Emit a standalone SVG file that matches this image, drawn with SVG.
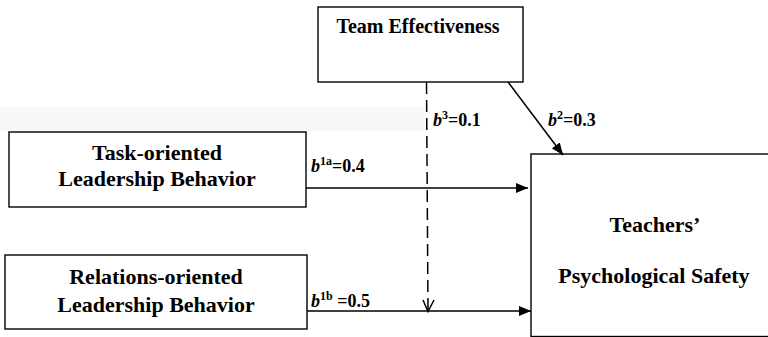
<svg xmlns="http://www.w3.org/2000/svg" width="768" height="337" viewBox="0 0 768 337">
  <style>
    .box { fill: #ffffff; stroke: #000000; stroke-width: 1.4; }
    .lbl { font-family: "Liberation Serif", "Times New Roman", serif; font-weight: bold; font-size: 22px; fill: #000; text-anchor: middle; }
    .lblS { font-family: "Liberation Serif", "Times New Roman", serif; font-weight: bold; font-size: 20px; fill: #000; text-anchor: middle; }
    .coef { font-family: "Liberation Serif", "Times New Roman", serif; font-weight: bold; font-size: 18px; fill: #000; }
    .it { font-style: italic; }
    .sup { font-size: 12px; }
    .line { stroke: #000; stroke-width: 1.5; fill: none; }
  </style>
  <defs>
    <marker id="arr" viewBox="0 0 12 10" refX="12" refY="5" markerWidth="12" markerHeight="10" markerUnits="userSpaceOnUse" orient="auto">
      <path d="M0,0 L12,5 L0,10 Z" fill="#000"/>
    </marker>
  </defs>
  <rect width="768" height="337" fill="#ffffff"/>
  <rect x="0" y="107" width="425" height="24" fill="#f8f8f8"/>

  <g id="team-effectiveness">
    <rect class="box" x="318" y="7" width="205" height="75"/>
    <text class="lblS" x="418" y="33">Team Effectiveness</text>
  </g>
  <g id="task-oriented">
    <rect class="box" x="9" y="132" width="297" height="75"/>
    <text class="lbl" x="157" y="160">Task-oriented</text>
    <text class="lbl" x="157" y="186">Leadership Behavior</text>
  </g>
  <g id="relations-oriented">
    <rect class="box" x="5" y="255" width="302" height="74"/>
    <text class="lbl" x="156" y="284">Relations-oriented</text>
    <text class="lbl" x="156" y="312">Leadership Behavior</text>
  </g>
  <g id="psychological-safety">
    <rect class="box" x="531" y="154" width="250" height="182.5"/>
    <text class="lbl" x="655" y="232">Teachers’</text>
    <text class="lbl" x="654" y="283">Psychological Safety</text>
  </g>

  <g id="connectors">
    <line class="line" x1="306" y1="188" x2="528" y2="188" marker-end="url(#arr)"/>
    <line class="line" x1="307" y1="311" x2="531" y2="311" marker-end="url(#arr)"/>
    <line class="line" x1="508" y1="82" x2="563" y2="155" marker-end="url(#arr)"/>
    <line class="line" x1="426.5" y1="82" x2="428" y2="311" stroke-dasharray="12,6"/>
    <path class="line" d="M423,300 L428,311.5 L434,300"/>
  </g>

  <g id="labels">
    <text class="coef" x="433" y="126"><tspan class="it">b</tspan><tspan class="sup" dy="-7">3</tspan><tspan dy="7">=0.1</tspan></text>
    <text class="coef" x="548" y="126"><tspan class="it">b</tspan><tspan class="sup" dy="-7">2</tspan><tspan dy="7">=0.3</tspan></text>
    <text class="coef" x="311" y="172"><tspan class="it">b</tspan><tspan class="sup" dy="-7">1a</tspan><tspan dy="7">=0.4</tspan></text>
    <text class="coef" x="311" y="307"><tspan class="it">b</tspan><tspan class="sup" dy="-7">1b</tspan><tspan dy="7"> =0.5</tspan></text>
  </g>
</svg>
